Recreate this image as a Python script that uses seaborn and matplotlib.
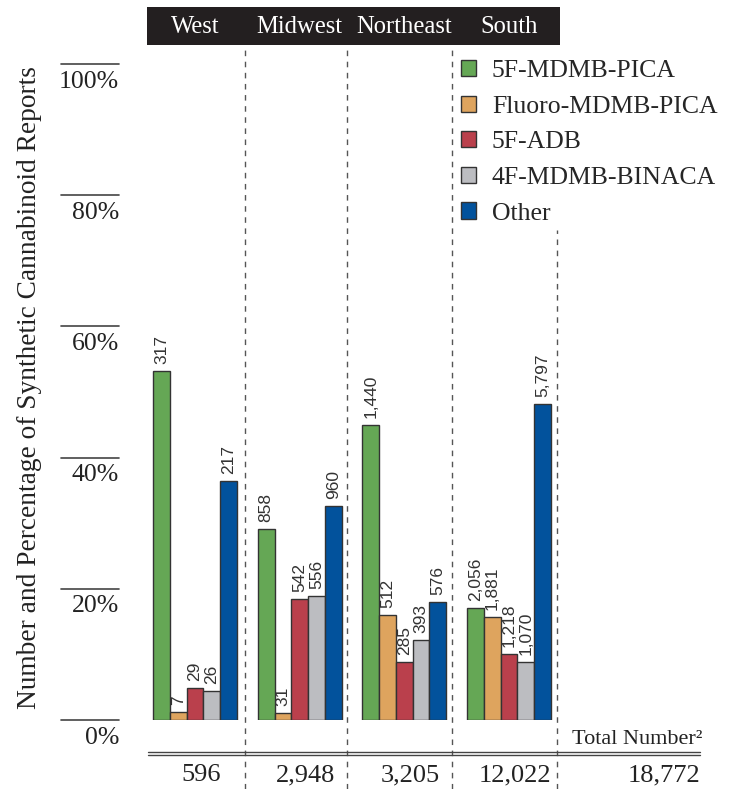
import pandas as pd
import matplotlib.pyplot as plt
from matplotlib.patches import Rectangle
import seaborn as sns

sns.set_style("white")
plt.rcParams['font.family'] = ['Liberation Serif', 'DejaVu Serif']

regions = ["West", "Midwest", "Northeast", "South"]
drugs = ["5F-MDMB-PICA", "Fluoro-MDMB-PICA", "5F-ADB", "4F-MDMB-BINACA", "Other"]
colors = ["#65a755", "#dea45e", "#ba404c", "#bcbdc1", "#02529c"]
region_totals = [596, 2948, 3205, 12022]
grand_total = 18772
counts = {
    "5F-MDMB-PICA":     [317, 858, 1440, 2056],
    "Fluoro-MDMB-PICA": [7, 31, 512, 1881],
    "5F-ADB":           [29, 542, 285, 1218],
    "4F-MDMB-BINACA":   [26, 556, 393, 1070],
    "Other":            [217, 960, 576, 5797],
}

rows = []
for d in drugs:
    for r, c, t in zip(regions, counts[d], region_totals):
        rows.append({"region": r, "drug": d, "count": c, "pct": c / t * 100})
df = pd.DataFrame(rows)

fig = plt.figure(figsize=(7.33, 7.89), dpi=100)
ax = fig.add_axes([142.6 / 733, 69 / 789, 557.4 / 733, 656 / 789])

sns.barplot(data=df, x="region", y="pct", hue="drug", order=regions, hue_order=drugs,
            palette=colors, edgecolor="#333333", linewidth=1, saturation=1, ax=ax)

ax.set_xlim(-0.5, 4.824)
ax.set_ylim(0, 100)
ax.set_xticks([])
ax.set_yticks([])
ax.set_xlabel("")
ax.set_ylabel("")
sns.despine(ax=ax, left=True, bottom=True)

def xd(px):
    return (px - 195) / 104.7

def yd(py):
    return (720 - py) / 6.56

# count labels on bars
for cont, d in zip(ax.containers, drugs):
    ax.bar_label(cont, labels=[f"{c:,}" for c in counts[d]], rotation=90, padding=5,
                 fontsize=12.5, color="#333333", family=["Liberation Sans Narrow", "Liberation Sans"])

# y "ticks" drawn as short rules with labels beneath
for v in range(0, 101, 20):
    ax.plot([xd(61), xd(119)], [v, v], color="#444444", lw=1.2, clip_on=False)
    ax.text(xd(119), v - 1.0, f"{v}%", ha="right", va="top", fontsize=18.5, color="#222222")

fig.text(30 / 733, 1 - 388 / 789, "Number and Percentage of Synthetic Cannabinoid Reports",
         rotation=90, ha="center", va="center", fontsize=19.7, color="#222222")

# dashed dividers
for i, xp in enumerate([245, 347, 452, 557]):
    top = yd(230) if i == 3 else yd(47)
    ax.plot([xd(xp), xd(xp)], [yd(789), top], color="#555555", lw=1, ls=(0, (4, 4)), clip_on=False)

# header band
ax.add_patch(Rectangle((xd(147), yd(45)), xd(560) - xd(147), yd(7) - yd(45),
                       facecolor="#231f20", edgecolor="none", clip_on=False))
for i, r in enumerate(regions):
    ax.text(i, yd(27), r, color="white", ha="center", va="center", fontsize=17.7)

# totals row
for y in [752, 755]:
    ax.plot([xd(148), xd(700)], [yd(y), yd(y)], color="#444444", lw=1, clip_on=False)
for i, t in enumerate(region_totals):
    ax.text(i + 0.06, yd(775), f"{t:,}", ha="center", va="center", fontsize=19, color="#222222")
ax.text(xd(700), yd(775), f"{grand_total:,}", ha="right", va="center", fontsize=19, color="#222222")
ax.text(xd(702), yd(739), "Total Number²", ha="right", va="center", fontsize=16, color="#222222")

handles, labels = ax.get_legend_handles_labels()
ax.legend(handles, labels, loc="upper left", bbox_to_anchor=(461 / 733, 1 - 60 / 789),
          bbox_transform=fig.transFigure, frameon=False, fontsize=18.5, borderpad=0,
          borderaxespad=0, handlelength=0.6, handleheight=0.6, handletextpad=0.6,
          labelspacing=0.52)

fig.savefig("out.png", dpi=100)
